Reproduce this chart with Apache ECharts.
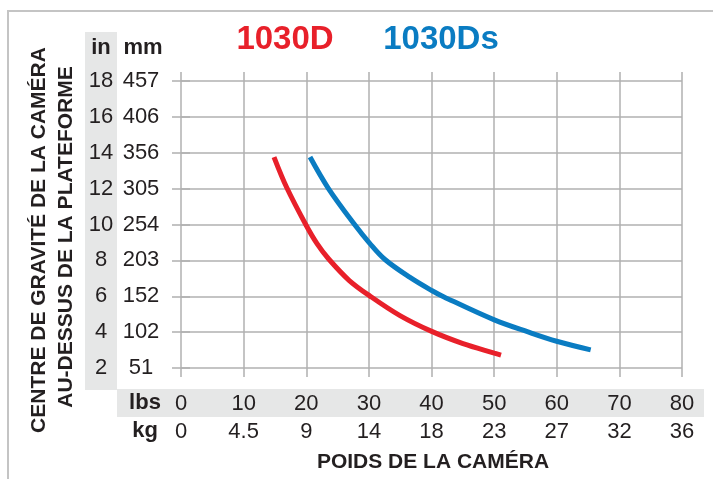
<!DOCTYPE html>
<html><head><meta charset="utf-8">
<style>html,body{margin:0;padding:0;background:#fff}#c{width:713px;height:479px}</style>
<script src="https://cdn.jsdelivr.net/npm/echarts@6/dist/echarts.min.js"></script>
</head><body><div id="c"></div>
<script>
// Tick labels
const lbsTicks = ['0','10','20','30','40','50','60','70','80'];
const kgTicks  = ['0','4.5','9','14','18','23','27','32','36'];
const inTicks  = ['2','4','6','8','10','12','14','16','18'];
const mmTicks  = ['51','102','152','203','254','305','356','406','457'];
// 1030D (red): camera weight (lbs) vs centre of gravity height (in)
const d1030Weight = [14.85, 16.88, 19.96, 21.72, 23.55, 26.83, 30.18, 34.97, 40.03, 45.03, 50.03, 51.1];
const d1030Height = [13.76, 12.06, 9.97, 8.93, 8.09, 6.89, 6.01, 4.92, 4.04, 3.36, 2.83, 2.72];
// 1030Ds (blue)
const ds1030Weight = [20.6, 23.52, 27.78, 30.07, 32.57, 36.57, 40.03, 42.0, 50.03, 55.41, 59.99, 65.42];
const ds1030Height = [13.76, 12.02, 9.97, 8.98, 8.05, 7.05, 6.32, 5.96, 4.68, 4.01, 3.49, 3.01];

const pairs = (xs, ys) => xs.map((x, i) => [x, ys[i]]);
const GRID = '#b0b0b0';
const TXT = '#231f20';
const LBLFONT = '"Liberation Sans Narrow", "Liberation Sans", Arial, sans-serif';
const BOLD = '"Liberation Sans", Arial, sans-serif';

const chart = echarts.init(document.getElementById('c'), null, {renderer: 'canvas'});
const tickStyle = {show: true, length: 9, lineStyle: {color: GRID, width: 1.5}};
const xBase = {type: 'value', min: 0, max: 80, interval: 10, axisLine: {show: false}};
const yBase = {type: 'value', min: 2, max: 18, interval: 2, axisLine: {show: false}};

chart.setOption({
  animation: false,
  grid: {left: 181, right: 31, top: 81, bottom: 111},
  graphic: [
    {type: 'rect', shape: {x: 8, y: 11, width: 720, height: 480}, style: {fill: 'none', stroke: '#c4c4c4', lineWidth: 2}, z: -10},
    {type: 'rect', shape: {x: 85, y: 32, width: 32, height: 358}, style: {fill: '#e6e7e7'}, z: -5},
    {type: 'rect', shape: {x: 117, y: 389, width: 587, height: 28}, style: {fill: '#e6e7e7'}, z: -5},
    {type: 'text', x: 101, y: 48, style: {text: 'in', font: 'bold 22px ' + BOLD, fill: TXT, align: 'center', verticalAlign: 'middle'}},
    {type: 'text', x: 143, y: 48, style: {text: 'mm', font: 'bold 22px ' + BOLD, fill: TXT, align: 'center', verticalAlign: 'middle'}},
    {type: 'text', x: 145, y: 403, style: {text: 'lbs', font: 'bold 22px ' + BOLD, fill: TXT, align: 'center', verticalAlign: 'middle'}},
    {type: 'text', x: 145, y: 431, style: {text: 'kg', font: 'bold 22px ' + BOLD, fill: TXT, align: 'center', verticalAlign: 'middle'}},
    {type: 'text', x: 285, y: 40, style: {text: '1030D', font: 'bold 33px ' + BOLD, fill: '#e8202a', align: 'center', verticalAlign: 'middle'}},
    {type: 'text', x: 441, y: 40, style: {text: '1030Ds', font: 'bold 33px ' + BOLD, fill: '#0a7cc2', align: 'center', verticalAlign: 'middle'}},
    {type: 'text', x: 433, y: 462, style: {text: 'POIDS DE LA CAMÉRA', font: 'bold 21px ' + BOLD, fill: TXT, align: 'center', verticalAlign: 'middle'}},
    {type: 'text', x: 39, y: 240, rotation: Math.PI / 2, style: {text: 'CENTRE DE GRAVITÉ DE LA CAMÉRA', font: 'bold 21px ' + BOLD, fill: TXT, align: 'center', verticalAlign: 'middle'}},
    {type: 'text', x: 66, y: 237, rotation: Math.PI / 2, style: {text: 'AU-DESSUS DE LA PLATEFORME', font: 'bold 21px ' + BOLD, fill: TXT, align: 'center', verticalAlign: 'middle'}}
  ],
  xAxis: [
    Object.assign({}, xBase, {position: 'bottom', axisTick: tickStyle,
      splitLine: {show: true, lineStyle: {color: GRID, width: 1.5}},
      axisLabel: {margin: 36, verticalAlign: 'middle', color: TXT, fontSize: 22, fontFamily: LBLFONT,
        formatter: v => lbsTicks[Math.round(v / 10)]}}),
    Object.assign({}, xBase, {position: 'bottom', axisTick: {show: false}, splitLine: {show: false},
      axisLabel: {margin: 64, verticalAlign: 'middle', color: TXT, fontSize: 22, fontFamily: LBLFONT,
        formatter: v => kgTicks[Math.round(v / 10)]}}),
    Object.assign({}, xBase, {position: 'top', axisTick: tickStyle, splitLine: {show: false}, axisLabel: {show: false}})
  ],
  yAxis: [
    Object.assign({}, yBase, {position: 'left', axisTick: tickStyle,
      splitLine: {show: true, lineStyle: {color: GRID, width: 1.5}},
      axisLabel: {margin: 40, align: 'center', color: TXT, fontSize: 22, fontFamily: LBLFONT,
        formatter: v => mmTicks[Math.round((v - 2) / 2)]}}),
    Object.assign({}, yBase, {position: 'left', axisTick: {show: false}, splitLine: {show: false},
      axisLabel: {margin: 80, align: 'center', color: TXT, fontSize: 22, fontFamily: LBLFONT,
        formatter: v => inTicks[Math.round((v - 2) / 2)]}}),
    Object.assign({}, yBase, {position: 'right', axisTick: tickStyle, splitLine: {show: false}, axisLabel: {show: false}})
  ],
  series: [
    {name: '1030D', type: 'line', xAxisIndex: 0, yAxisIndex: 0, data: pairs(d1030Weight, d1030Height),
      smooth: 0.35, showSymbol: false, lineStyle: {color: '#e8202a', width: 5}},
    {name: '1030Ds', type: 'line', xAxisIndex: 0, yAxisIndex: 0, data: pairs(ds1030Weight, ds1030Height),
      smooth: 0.35, showSymbol: false, lineStyle: {color: '#0a7cc2', width: 5}}
  ]
});
</script></body></html>
